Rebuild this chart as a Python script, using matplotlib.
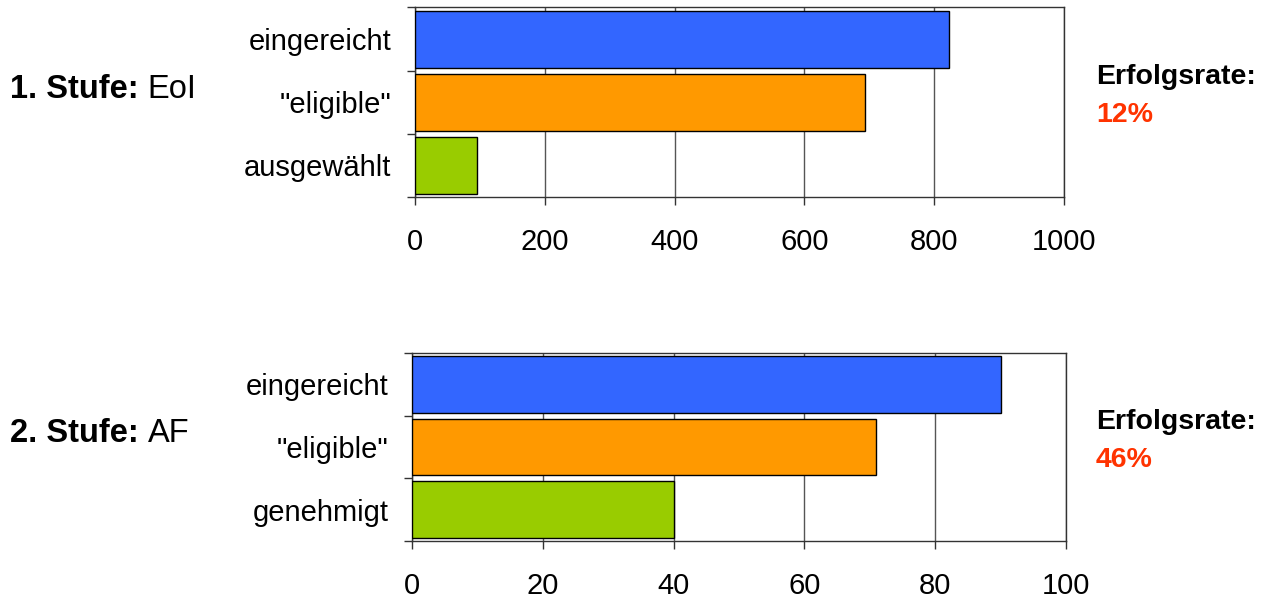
import numpy as np
import matplotlib.pyplot as plt

plt.rcParams['font.family'] = ['Liberation Sans', 'DejaVu Sans']

# data
labels_1 = ['eingereicht', '"eligible"', 'ausgewählt']
values_1 = [823, 693, 95]
labels_2 = ['eingereicht', '"eligible"', 'genehmigt']
values_2 = [90, 71, 40]
xticks_1 = [0, 200, 400, 600, 800, 1000]
xticks_2 = [0, 20, 40, 60, 80, 100]
rates = ['12%', '46%']
stages = [('1. Stufe:', 'EoI'), ('2. Stufe:', 'AF')]
colors = ['#3366FF', '#FF9900', '#99CC00']

fig = plt.figure(figsize=(12.67, 5.99), dpi=100)
ax1 = fig.add_axes([0.3275, 0.6711, 0.5122, 0.3164])
ax2 = fig.add_axes([0.3252, 0.0968, 0.5162, 0.3139])


def draw(ax, labels, values, xticks):
    y = np.arange(len(labels))
    ax.barh(y, values, height=0.9, color=colors, edgecolor='black', linewidth=1, zorder=3)
    ax.set_ylim(len(labels) - 0.5, -0.5)
    ax.set_xlim(xticks[0], xticks[-1])
    ax.set_xticks(xticks)
    ax.set_xticklabels([str(t) for t in xticks], fontsize=21)
    ax.set_yticks(y)
    ax.set_yticklabels(labels, fontsize=21)
    ax.set_yticks(np.arange(len(labels) + 1) - 0.5, minor=True)
    ax.tick_params(axis='y', which='major', length=0, pad=17)
    ax.tick_params(axis='y', which='minor', length=6, width=1, color='#333333')
    ax.tick_params(axis='x', length=6, width=1, color='#333333', pad=16.5)
    ax.grid(axis='x', color='#555555', linewidth=1, zorder=0)
    for s in ax.spines.values():
        s.set_color('#333333')
        s.set_linewidth(1)


draw(ax1, labels_1, values_1, xticks_1)
draw(ax2, labels_2, values_2, xticks_2)

# stage labels left
for ax, (bold, normal) in zip([ax1, ax2], stages):
    yc = (ax.get_position().y0 + ax.get_position().y1) / 2 + 0.022
    t = fig.text(10 / 1267, yc, bold + ' ', fontsize=23.5, fontweight='bold', va='center', ha='left')
    fig.canvas.draw()
    bb = t.get_window_extent()
    fig.text(bb.x1 / 1267, yc, normal, fontsize=23.5, va='center', ha='left')

# success rates right
for ax, r in zip([ax1, ax2], rates):
    yc = (ax.get_position().y0 + ax.get_position().y1) / 2
    fig.text(1096 / 1267, yc + 0.042, 'Erfolgsrate:', fontsize=20.5, fontweight='bold', va='center', ha='left')
    fig.text(1096 / 1267, yc - 0.022, r, fontsize=20.5, fontweight='bold', color='#FF3300', va='center', ha='left')

fig.savefig('out.png', dpi=100)
